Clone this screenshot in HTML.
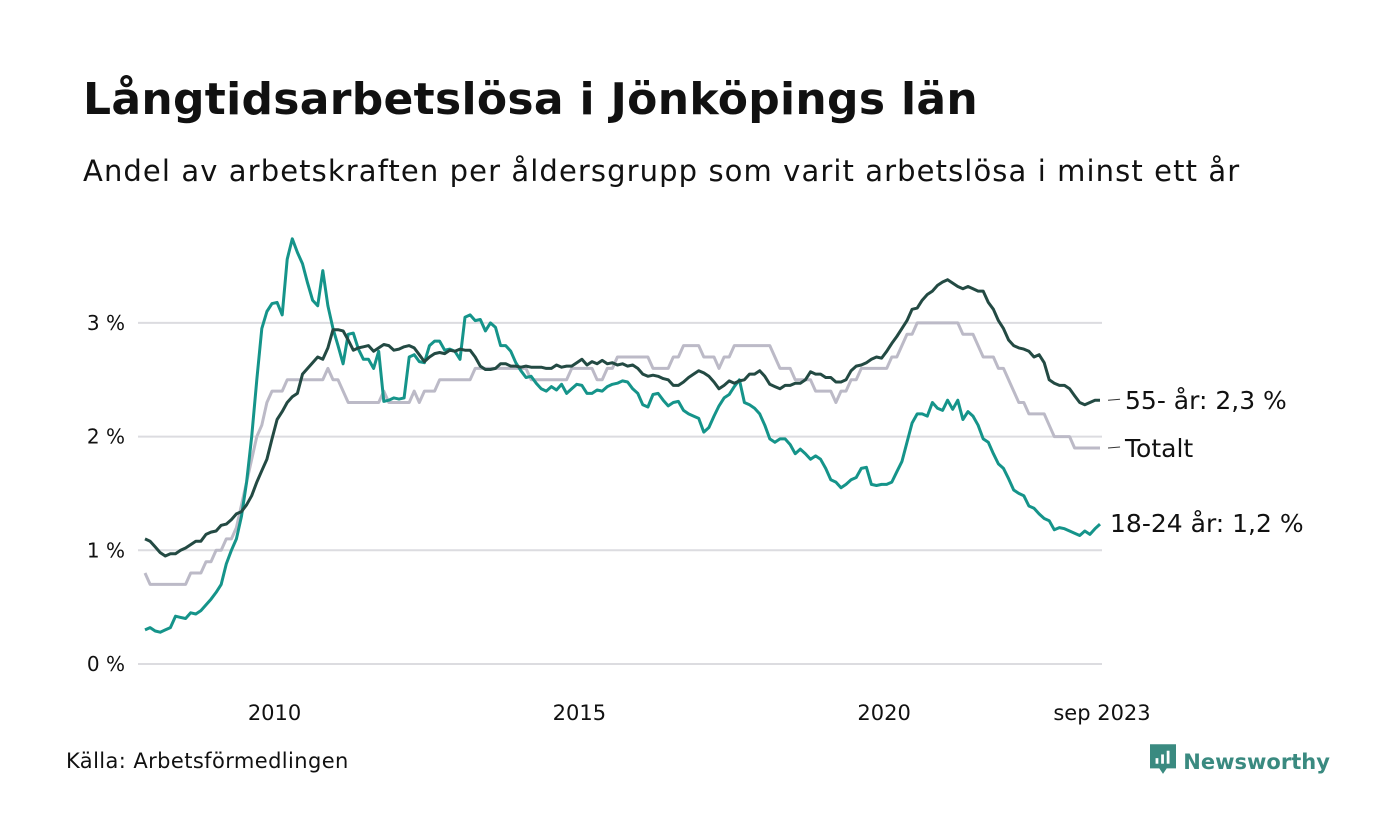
<!DOCTYPE html>
<html><head><meta charset="utf-8">
<style>
body{margin:0;background:#fff;width:1400px;height:840px;overflow:hidden;font-family:"DejaVu Sans","Liberation Sans",sans-serif;}
#title{position:absolute;left:83px;top:74px;font-size:44px;font-weight:bold;color:#111;letter-spacing:0.3px;white-space:nowrap;}
#subtitle{position:absolute;left:83px;top:154px;font-size:29px;color:#111;letter-spacing:1.1px;white-space:nowrap;}
#source{position:absolute;left:66px;top:749px;font-size:21px;color:#111;letter-spacing:0.4px;}
#logo{position:absolute;left:1150px;top:743px;font-size:21px;font-weight:bold;color:#3a8a80;white-space:nowrap;}
</style></head><body>
<div id="title">Långtidsarbetslösa i Jönköpings län</div>
<div id="subtitle">Andel av arbetskraften per åldersgrupp som varit arbetslösa i minst ett år</div>
<div id="source">Källa: Arbetsförmedlingen</div>
<div id="logo"><svg width="26" height="34" viewBox="0 0 28 34" style="vertical-align:-8px"><path d="M0 0h28v26h-10l-4 6-4-6H0z" fill="#3a8a80"/><rect x="6" y="15" width="3" height="6" fill="#fff"/><rect x="12" y="11" width="3" height="10" fill="#fff"/><rect x="18" y="7" width="3" height="14" fill="#fff"/></svg> Newsworthy</div>
<svg id="chart" width="1400" height="840" style="position:absolute;left:0;top:0"></svg>
<script>
const startYear=2008, startMonth=0;
const yTicks=[0,1,2,3];
const yTickLabels=["0 %","1 %","2 %","3 %"];
const xTicks=[2010,2015,2020];
const young=[0.3,0.32,0.29,0.28,0.3,0.32,0.42,0.41,0.4,0.45,0.44,0.47,
0.52,0.57,0.63,0.7,0.88,1.0,1.1,1.3,1.6,2.0,2.5,2.95,
3.1,3.17,3.18,3.07,3.56,3.74,3.62,3.52,3.35,3.2,3.15,3.46,
3.15,2.95,2.8,2.64,2.9,2.91,2.77,2.68,2.68,2.6,2.75,2.31,
2.32,2.34,2.33,2.34,2.7,2.72,2.66,2.65,2.8,2.84,2.84,2.76,
2.77,2.75,2.68,3.05,3.07,3.02,3.03,2.93,3.0,2.96,2.8,2.8,
2.75,2.65,2.58,2.52,2.53,2.47,2.42,2.4,2.44,2.41,2.46,2.38,
2.42,2.46,2.45,2.38,2.38,2.41,2.4,2.44,2.46,2.47,2.49,2.48,
2.42,2.38,2.28,2.26,2.37,2.38,2.32,2.27,2.3,2.31,2.23,2.2,
2.18,2.16,2.04,2.08,2.18,2.27,2.34,2.37,2.44,2.5,2.3,2.28,
2.25,2.2,2.1,1.98,1.95,1.98,1.98,1.93,1.85,1.89,1.85,1.8,
1.83,1.8,1.72,1.62,1.6,1.55,1.58,1.62,1.64,1.72,1.73,1.58,
1.57,1.58,1.58,1.6,1.69,1.78,1.95,2.12,2.2,2.2,2.18,2.3,
2.25,2.23,2.32,2.24,2.32,2.15,2.22,2.18,2.1,1.98,1.95,1.85,
1.76,1.72,1.63,1.53,1.5,1.48,1.39,1.37,1.32,1.28,1.26,1.18,
1.2,1.19,1.17,1.15,1.13,1.17,1.14,1.19,1.23];
const older=[1.1,1.08,1.03,0.98,0.95,0.97,0.97,1.0,1.02,1.05,1.08,1.08,
1.14,1.16,1.17,1.22,1.23,1.27,1.32,1.34,1.4,1.48,1.6,1.7,
1.8,1.98,2.15,2.22,2.3,2.35,2.38,2.55,2.6,2.65,2.7,2.68,
2.78,2.94,2.94,2.93,2.85,2.76,2.78,2.79,2.8,2.75,2.78,2.81,
2.8,2.76,2.77,2.79,2.8,2.78,2.72,2.66,2.7,2.73,2.74,2.73,
2.76,2.75,2.77,2.76,2.76,2.7,2.62,2.59,2.59,2.6,2.64,2.64,
2.62,2.62,2.61,2.62,2.61,2.61,2.61,2.6,2.6,2.63,2.61,2.62,
2.62,2.65,2.68,2.63,2.66,2.64,2.67,2.64,2.65,2.63,2.64,2.62,
2.63,2.6,2.55,2.53,2.54,2.53,2.51,2.5,2.45,2.45,2.48,2.52,
2.55,2.58,2.56,2.53,2.48,2.42,2.45,2.49,2.47,2.49,2.5,2.55,
2.55,2.58,2.53,2.46,2.44,2.42,2.45,2.45,2.47,2.47,2.5,2.57,
2.55,2.55,2.52,2.52,2.48,2.48,2.5,2.58,2.62,2.63,2.65,2.68,
2.7,2.69,2.75,2.82,2.88,2.95,3.02,3.12,3.13,3.2,3.25,3.28,
3.33,3.36,3.38,3.35,3.32,3.3,3.32,3.3,3.28,3.28,3.18,3.12,
3.02,2.95,2.85,2.8,2.78,2.77,2.75,2.7,2.72,2.65,2.5,2.47,
2.45,2.45,2.42,2.36,2.3,2.28,2.3,2.32,2.32];
const total=[0.8,0.7,0.7,0.7,0.7,0.7,0.7,0.7,0.7,0.8,0.8,0.8,
0.9,0.9,1.0,1.0,1.1,1.1,1.2,1.4,1.6,1.8,2.0,2.1,
2.3,2.4,2.4,2.4,2.5,2.5,2.5,2.5,2.5,2.5,2.5,2.5,
2.6,2.5,2.5,2.4,2.3,2.3,2.3,2.3,2.3,2.3,2.3,2.4,
2.3,2.3,2.3,2.3,2.3,2.4,2.3,2.4,2.4,2.4,2.5,2.5,
2.5,2.5,2.5,2.5,2.5,2.6,2.6,2.6,2.6,2.6,2.6,2.6,
2.6,2.6,2.6,2.6,2.5,2.5,2.5,2.5,2.5,2.5,2.5,2.5,
2.6,2.6,2.6,2.6,2.6,2.5,2.5,2.6,2.6,2.7,2.7,2.7,
2.7,2.7,2.7,2.7,2.6,2.6,2.6,2.6,2.7,2.7,2.8,2.8,
2.8,2.8,2.7,2.7,2.7,2.6,2.7,2.7,2.8,2.8,2.8,2.8,
2.8,2.8,2.8,2.8,2.7,2.6,2.6,2.6,2.5,2.5,2.5,2.5,
2.4,2.4,2.4,2.4,2.3,2.4,2.4,2.5,2.5,2.6,2.6,2.6,
2.6,2.6,2.6,2.7,2.7,2.8,2.9,2.9,3.0,3.0,3.0,3.0,
3.0,3.0,3.0,3.0,3.0,2.9,2.9,2.9,2.8,2.7,2.7,2.7,
2.6,2.6,2.5,2.4,2.3,2.3,2.2,2.2,2.2,2.2,2.1,2.0,
2.0,2.0,2.0,1.9,1.9,1.9,1.9,1.9,1.9];
const labels=["55- år: 2,3 %","Totalt","18-24 år: 1,2 %"];

const svg=document.getElementById('chart');
const NS='http://www.w3.org/2000/svg';
const x0=145,pxPerMonth=5.08,yZero=664,pxPerUnit=113.7;
const FF='DejaVu Sans, Liberation Sans, sans-serif';
function xPos(i){return x0+i*pxPerMonth;}
function yPos(v){return yZero-v*pxPerUnit;}
function mk(t,a){const e=document.createElementNS(NS,t);for(const k in a)e.setAttribute(k,a[k]);svg.appendChild(e);return e;}
yTicks.forEach((t,i)=>{
  const l=mk('line',{x1:138,x2:1102,y1:yPos(t),y2:yPos(t),stroke:'#dcdce0','stroke-width':2});
  
  
  const tx=mk('text',{x:125,y:yPos(t)+7,'text-anchor':'end','font-size':20,fill:'#111','font-family':FF});
  tx.textContent=yTickLabels[i];
  
  
});
xTicks.forEach(yr=>{
  const i=(yr-startYear)*12+1.5;
  const tx=mk('text',{x:xPos(i),y:720,'text-anchor':'middle','font-size':21,fill:'#111','font-family':FF});
  tx.textContent=String(yr);
  
  
});
const lastTx=mk('text',{x:1102,y:720,'text-anchor':'middle','font-size':21,fill:'#111','font-family':FF});
lastTx.textContent='sep 2023';


function drawLine(arr,color,name){
  const d=arr.map((v,i)=>(i?'L':'M')+xPos(i).toFixed(1)+' '+yPos(v).toFixed(1)).join(' ');
  const p=mk('path',{d:d,fill:'none',stroke:color,'stroke-width':3,'stroke-linejoin':'round'});
  
  
}
drawLine(total,'#bcbac7','line-totalt');
drawLine(young,'#15948a','line-18-24');
drawLine(older,'#234a43','line-55');
const ends=[[older,labels[0],0],[total,labels[1],0],[young,labels[2],-1]];
ends.forEach(([arr,lab,off],k)=>{
  const ly=yPos(arr[arr.length-1]);
  const xe=xPos(arr.length-1);
  if(k<2){
    const t=mk('line',{x1:xe+8,x2:xe+20,y1:ly,y2:ly-1,stroke:'#333','stroke-width':1});
    
    
  }
  const tx=mk('text',{x:k<2?xe+25:xe+10,y:ly+9+off,'font-size':25,fill:'#111','font-family':FF});
  tx.textContent=lab;
  
  
});
</script>
</body></html>
